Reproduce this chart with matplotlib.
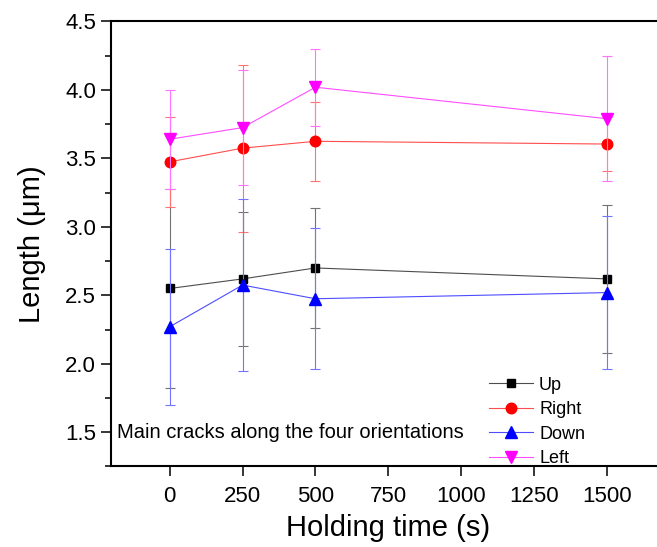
import numpy as np
import matplotlib
matplotlib.use('Agg')
import matplotlib.pyplot as plt
from matplotlib.ticker import MultipleLocator
from matplotlib.colors import to_rgb

plt.rcParams['font.family'] = ['Liberation Sans', 'DejaVu Sans']

# holding time (s)
hold_time = [0, 250, 500, 1500]

# crack length (um) and error for each orientation
up = [2.55, 2.62, 2.70, 2.62]
up_err = [0.73, 0.49, 0.44, 0.54]
right = [3.475, 3.575, 3.625, 3.605]
right_err = [0.33, 0.61, 0.29, 0.20]
down = [2.27, 2.575, 2.475, 2.52]
down_err = [0.57, 0.63, 0.515, 0.56]
left = [3.64, 3.725, 4.02, 3.79]
left_err = [0.36, 0.42, 0.28, 0.455]

series = [
    ('Up', up, up_err, 'black', 's', 6.3),
    ('Right', right, right_err, 'red', 'o', 7.6),
    ('Down', down, down_err, 'blue', '^', 8.5),
    ('Left', left, left_err, 'magenta', 'v', 8.5),
]

def lighten(c, f):
    r = np.array(to_rgb(c))
    return tuple(r + (1 - r) * f)

fig = plt.figure(figsize=(6.57, 5.47), dpi=100)
# right edge of the frame is cut off in the original picture
ax = fig.add_axes([0.1694, 0.1472, 0.8433, 0.8135])

handles = []
for name, vals, err, col, mk, ms in series:
    ax.errorbar(hold_time, vals, yerr=err, fmt='none', ecolor=lighten(col, 0.45), elinewidth=0.8,
                capsize=3.3, capthick=0.8)
    h, = ax.plot(hold_time, vals, color=lighten(col, 0.3), lw=0.8, marker=mk, ms=ms,
                 mfc=col, mec=col, label=name)
    handles.append(h)

ax.legend(handles=handles, loc='lower left', bbox_to_anchor=(0.676, -0.01),
          frameon=False, fontsize=13, handlelength=2.4, handletextpad=0.35,
          labelspacing=0.42, borderaxespad=0, borderpad=0.2)

ax.text(-180, 1.5, 'Main cracks along the four orientations', fontsize=14.5, va='center', ha='left')

ax.set_xlim(-200, 1700)
ax.set_ylim(1.25, 4.5)
ax.set_xticks([0, 250, 500, 750, 1000, 1250, 1500])
ax.yaxis.set_major_locator(MultipleLocator(0.5))
ax.yaxis.set_minor_locator(MultipleLocator(0.25))
ax.tick_params(axis='both', which='major', direction='out', length=7, width=1.1, labelsize=16)
ax.tick_params(axis='y', which='minor', direction='out', length=4.5, width=1.1)
ax.tick_params(axis='x', pad=7)
ax.tick_params(axis='y', pad=4)
for sp in ['left', 'bottom', 'top']:
    ax.spines[sp].set_linewidth(1.5)
ax.spines['right'].set_visible(False)

ax.set_xlabel('Holding time (s)', fontsize=21, labelpad=5)
ax.set_ylabel('Length (μm)', fontsize=21, labelpad=14)

fig.savefig('out.png', dpi=100)
